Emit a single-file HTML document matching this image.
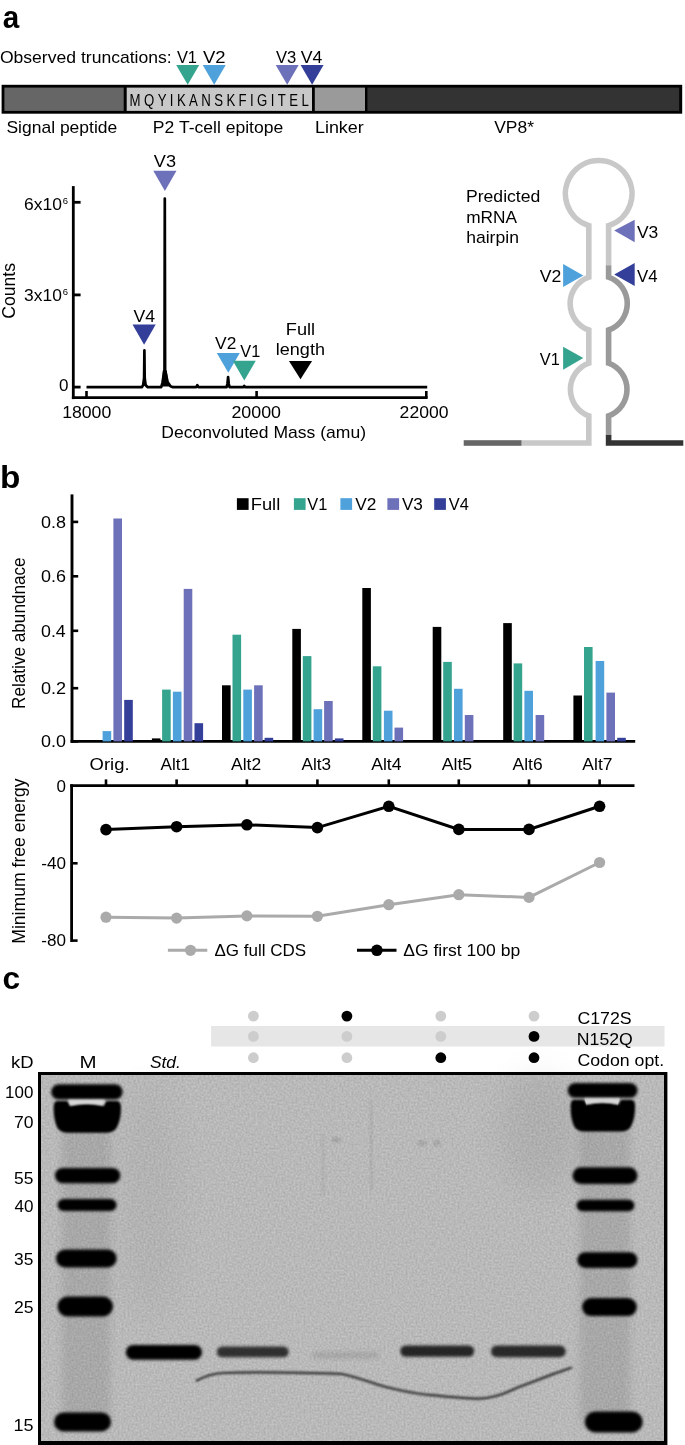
<!DOCTYPE html>
<html><head><meta charset="utf-8"><style>
html,body{margin:0;padding:0;background:#fff;}
svg{display:block;will-change:transform;font-family:"Liberation Sans",sans-serif;font-size:17px;}
</style></head><body>
<svg width="685" height="1445" viewBox="0 0 685 1445">
<defs>
<filter id="b15" x="-20%" y="-50%" width="140%" height="200%"><feGaussianBlur stdDeviation="1.5"/></filter>
<filter id="b14" x="-20%" y="-50%" width="140%" height="200%"><feGaussianBlur stdDeviation="1.4"/></filter>
<filter id="b20" x="-50%" y="-50%" width="200%" height="200%"><feGaussianBlur stdDeviation="15"/></filter>
<filter id="b18" x="-20%" y="-80%" width="140%" height="260%"><feGaussianBlur stdDeviation="1.8"/></filter>
<filter id="b12" x="-20%" y="-50%" width="140%" height="200%"><feGaussianBlur stdDeviation="1.2"/></filter>
<filter id="b2" x="-20%" y="-80%" width="140%" height="260%"><feGaussianBlur stdDeviation="2"/></filter>
<filter id="b08" x="-20%" y="-50%" width="140%" height="200%"><feGaussianBlur stdDeviation="0.8"/></filter>
<filter id="b1" x="-20%" y="-50%" width="140%" height="200%"><feGaussianBlur stdDeviation="1"/></filter>
<filter id="b05" x="-5%" y="-20%" width="110%" height="140%"><feGaussianBlur stdDeviation="0.6"/></filter>
<filter id="b4" x="-30%" y="-10%" width="160%" height="120%"><feGaussianBlur stdDeviation="4"/></filter>
<filter id="noise" x="0" y="0" width="100%" height="100%" color-interpolation-filters="sRGB"><feTurbulence type="fractalNoise" baseFrequency="0.5" numOctaves="2" seed="3"/><feColorMatrix type="matrix" values="0.17 0 0 0 0.64  0.17 0 0 0 0.64  0.17 0 0 0 0.64  0 0 0 0 1"/></filter>
</defs>
<rect width="685" height="1445" fill="#fff"/>
<text x="2.73" y="27.60" font-size="31.5" style="font-weight:bold;" textLength="16.48" lengthAdjust="spacingAndGlyphs">a</text>
<text x="-0.13" y="62.50" textLength="171.84" lengthAdjust="spacingAndGlyphs">Observed truncations:</text>
<text x="176.93" y="62.50" textLength="20.07" lengthAdjust="spacingAndGlyphs">V1</text>
<text x="203.02" y="62.50" textLength="22.61" lengthAdjust="spacingAndGlyphs">V2</text>
<text x="276.03" y="62.50" textLength="20.30" lengthAdjust="spacingAndGlyphs">V3</text>
<text x="300.82" y="62.50" textLength="21.59" lengthAdjust="spacingAndGlyphs">V4</text>
<polygon points="176.20,64.90 199.20,64.90 187.70,84.70" fill="#35a48e"/>
<polygon points="202.70,64.90 225.70,64.90 214.20,84.70" fill="#4ea1db"/>
<polygon points="275.70,64.90 298.70,64.90 287.20,84.70" fill="#6d71b9"/>
<polygon points="300.60,64.90 323.60,64.90 312.10,84.70" fill="#333f98"/>
<rect x="1.60" y="84.80" width="680.60" height="28.90" fill="#000"/>
<rect x="4.40" y="87.60" width="119.30" height="23.30" fill="#666"/>
<rect x="126.70" y="87.60" width="185.30" height="23.30" fill="#c8c8c8"/>
<rect x="314.80" y="87.60" width="50.20" height="23.30" fill="#9a9a9a"/>
<rect x="367.40" y="87.60" width="311.80" height="23.30" fill="#333"/>
<text transform="translate(129.6,106.1) scale(0.8,1)" x="0" y="0" font-size="16.5" textLength="224" lengthAdjust="spacing" fill="#000">MQYIKANSKFIGITEL</text>
<text x="6.41" y="132.70" textLength="110.87" lengthAdjust="spacingAndGlyphs">Signal peptide</text>
<text x="152.87" y="132.50" textLength="130.40" lengthAdjust="spacingAndGlyphs">P2 T-cell epitope</text>
<text x="314.93" y="133.00" textLength="48.87" lengthAdjust="spacingAndGlyphs">Linker</text>
<text x="494.22" y="133.20" textLength="39.75" lengthAdjust="spacingAndGlyphs">VP8*</text>
<line x1="73.30" y1="186.10" x2="73.30" y2="399.10" stroke="#000" stroke-width="2.8"/>
<line x1="71.90" y1="397.70" x2="427.60" y2="397.70" stroke="#000" stroke-width="2.8"/>
<line x1="73.30" y1="202.30" x2="80.60" y2="202.30" stroke="#000" stroke-width="2.8"/>
<line x1="73.30" y1="294.90" x2="80.60" y2="294.90" stroke="#000" stroke-width="2.8"/>
<line x1="73.30" y1="387.10" x2="80.60" y2="387.10" stroke="#000" stroke-width="2.8"/>
<line x1="86.50" y1="391.00" x2="86.50" y2="397.70" stroke="#000" stroke-width="2.6"/>
<line x1="256.60" y1="391.00" x2="256.60" y2="397.70" stroke="#000" stroke-width="2.6"/>
<line x1="426.30" y1="391.00" x2="426.30" y2="397.70" stroke="#000" stroke-width="2.6"/>
<text x="23.91" y="209.80" textLength="37.97" lengthAdjust="spacingAndGlyphs">6x10</text>
<text x="62.72" y="204.10" font-size="9.5">6</text>
<text x="24.14" y="300.60" textLength="37.74" lengthAdjust="spacingAndGlyphs">3x10</text>
<text x="62.72" y="294.90" font-size="9.5">6</text>
<text x="58.91" y="391.40">0</text>
<text x="62.15" y="417.80" textLength="49.14" lengthAdjust="spacingAndGlyphs">18000</text>
<text x="231.40" y="417.80" textLength="49.59" lengthAdjust="spacingAndGlyphs">20000</text>
<text x="399.62" y="417.80" textLength="48.87" lengthAdjust="spacingAndGlyphs">22000</text>
<text x="161.36" y="437.60" textLength="204.63" lengthAdjust="spacingAndGlyphs">Deconvoluted Mass (amu)</text>
<text transform="translate(15.20,318.69) rotate(-90)" font-size="17.6" textLength="55.63" lengthAdjust="spacingAndGlyphs">Counts</text>
<path d="M86.5,387.2 L141.8,387.2 L143.2,385 L144.1,378 L144.4,350.4 L144.7,378 L145.6,385 L147.5,387.2 L161.2,387.2 L162.4,383 L164.5,370 L164.8,198.6 L165.1,370 L167.6,382 L170.5,386.2 L173,387.2 L196.2,387.2 L197.3,385.2 L198.4,387.2 L226.6,387.2 L227.4,384 L228.1,377.2 L228.8,384 L229.6,387.2 L243.4,387.2 L244.2,385.8 L245,387.2 L427.2,387.2" fill="none" stroke="#000" stroke-width="2.7" stroke-linejoin="round"/>
<path d="M161.8,386.5 L162.8,370.5 L166.8,370.5 L168,381 L170.5,386.5 Z" fill="#000"/>
<text x="153.82" y="167.30" textLength="22.18" lengthAdjust="spacingAndGlyphs">V3</text>
<polygon points="153.30,170.80 176.50,170.80 164.90,191.00" fill="#6d71b9"/>
<text x="133.52" y="321.90" textLength="21.59" lengthAdjust="spacingAndGlyphs">V4</text>
<polygon points="132.50,324.50 155.70,324.50 144.10,344.70" fill="#333f98"/>
<text x="215.12" y="348.60" textLength="21.25" lengthAdjust="spacingAndGlyphs">V2</text>
<polygon points="216.80,353.00 239.80,353.00 228.30,372.70" fill="#4ea1db"/>
<text x="240.33" y="357.40" textLength="19.97" lengthAdjust="spacingAndGlyphs">V1</text>
<polygon points="232.80,360.70 255.80,360.70 244.30,380.40" fill="#35a48e"/>
<text x="285.81" y="334.90" textLength="29.31" lengthAdjust="spacingAndGlyphs">Full</text>
<text x="275.78" y="355.30" textLength="49.19" lengthAdjust="spacingAndGlyphs">length</text>
<polygon points="288.95,360.90 312.05,360.90 300.50,379.30" fill="#000"/>
<text x="465.96" y="201.90" textLength="74.38" lengthAdjust="spacingAndGlyphs">Predicted</text>
<text x="466.25" y="222.90" textLength="50.78" lengthAdjust="spacingAndGlyphs">mRNA</text>
<text x="466.18" y="243.10" textLength="52.76" lengthAdjust="spacingAndGlyphs">hairpin</text>
<path d="M521,443 L588.8,443 L588.8,415.8 A28,28 0 0 1 588.8,363.2 L588.8,330 A28,28 0 0 1 588.8,277.2 L588.8,225.6 A33.3,33.3 0 1 1 608.6,225.6 L608.6,266" fill="none" stroke="#c8c8c8" stroke-width="5.6"/>
<path d="M608.6,265.5 L608.6,277.2 A28,28 0 0 1 608.6,330 L608.6,363.2 A28,28 0 0 1 608.6,415.8 L608.6,435.5" fill="none" stroke="#9a9a9a" stroke-width="5.6"/>
<path d="M608.6,435 L608.6,443 L683.3,443" fill="none" stroke="#333" stroke-width="5.6"/>
<rect x="463.70" y="440.20" width="57.70" height="5.60" fill="#666"/>
<polygon points="614.20,230.50 634.70,219.80 634.70,242.30" fill="#6d71b9"/>
<polygon points="614.20,274.50 634.70,263.00 634.70,286.00" fill="#333f98"/>
<polygon points="583.30,275.50 563.10,264.10 563.10,287.00" fill="#4ea1db"/>
<polygon points="583.30,358.00 563.10,346.80 563.10,369.70" fill="#35a48e"/>
<text x="636.92" y="237.60" textLength="21.34" lengthAdjust="spacingAndGlyphs">V3</text>
<text x="636.93" y="282.20" textLength="20.57" lengthAdjust="spacingAndGlyphs">V4</text>
<text x="539.82" y="282.20" textLength="21.56" lengthAdjust="spacingAndGlyphs">V2</text>
<text x="539.83" y="364.50" textLength="19.97" lengthAdjust="spacingAndGlyphs">V1</text>
<text x="-0.10" y="487.50" font-size="31" style="font-weight:bold;" textLength="20.37" lengthAdjust="spacingAndGlyphs">b</text>
<line x1="72.00" y1="494.40" x2="72.00" y2="742.80" stroke="#000" stroke-width="2.9"/>
<line x1="70.60" y1="741.40" x2="635.20" y2="741.40" stroke="#000" stroke-width="2.8"/>
<line x1="72.00" y1="521.90" x2="78.20" y2="521.90" stroke="#000" stroke-width="2.6"/>
<text x="41.00" y="527.90" textLength="24.98" lengthAdjust="spacingAndGlyphs">0.8</text>
<line x1="72.00" y1="576.30" x2="78.20" y2="576.30" stroke="#000" stroke-width="2.6"/>
<text x="41.00" y="582.30" textLength="24.99" lengthAdjust="spacingAndGlyphs">0.6</text>
<line x1="72.00" y1="630.80" x2="78.20" y2="630.80" stroke="#000" stroke-width="2.6"/>
<text x="41.01" y="636.80" textLength="24.72" lengthAdjust="spacingAndGlyphs">0.4</text>
<line x1="72.00" y1="688.20" x2="78.20" y2="688.20" stroke="#000" stroke-width="2.6"/>
<text x="40.99" y="694.20" textLength="25.11" lengthAdjust="spacingAndGlyphs">0.2</text>
<line x1="72.00" y1="741.40" x2="78.20" y2="741.40" stroke="#000" stroke-width="2.6"/>
<text x="41.00" y="747.40" textLength="24.90" lengthAdjust="spacingAndGlyphs">0.0</text>
<text transform="translate(25.40,708.91) rotate(-90)" font-size="17.5" textLength="151.57" lengthAdjust="spacingAndGlyphs">Relative abundnace</text>
<rect x="236.90" y="498.20" width="11.70" height="11.70" fill="#000"/>
<text x="250.70" y="509.90" textLength="29.53" lengthAdjust="spacingAndGlyphs">Full</text>
<rect x="293.90" y="498.20" width="11.70" height="11.70" fill="#35a48e"/>
<text x="307.33" y="509.90" textLength="20.07" lengthAdjust="spacingAndGlyphs">V1</text>
<rect x="340.40" y="498.20" width="11.70" height="11.70" fill="#4ea1db"/>
<text x="355.22" y="509.90" textLength="21.15" lengthAdjust="spacingAndGlyphs">V2</text>
<rect x="387.40" y="498.20" width="11.70" height="11.70" fill="#6d71b9"/>
<text x="401.92" y="509.90" textLength="21.03" lengthAdjust="spacingAndGlyphs">V3</text>
<rect x="434.20" y="498.20" width="11.70" height="11.70" fill="#333f98"/>
<text x="448.73" y="509.90" textLength="20.05" lengthAdjust="spacingAndGlyphs">V4</text>
<rect x="102.60" y="731.10" width="8.60" height="10.30" fill="#4ea1db"/>
<rect x="113.40" y="518.50" width="8.60" height="222.90" fill="#6d71b9"/>
<rect x="124.20" y="699.90" width="8.60" height="41.50" fill="#333f98"/>
<rect x="151.90" y="738.40" width="8.60" height="3.00" fill="#000"/>
<rect x="162.10" y="689.60" width="8.60" height="51.80" fill="#35a48e"/>
<rect x="172.90" y="691.70" width="8.60" height="49.70" fill="#4ea1db"/>
<rect x="183.70" y="588.90" width="8.60" height="152.50" fill="#6d71b9"/>
<rect x="194.50" y="723.20" width="8.60" height="18.20" fill="#333f98"/>
<rect x="222.00" y="685.30" width="8.60" height="56.10" fill="#000"/>
<rect x="232.50" y="634.70" width="8.60" height="106.70" fill="#35a48e"/>
<rect x="243.30" y="689.60" width="8.60" height="51.80" fill="#4ea1db"/>
<rect x="254.10" y="685.30" width="8.60" height="56.10" fill="#6d71b9"/>
<rect x="264.60" y="737.80" width="8.60" height="3.60" fill="#333f98"/>
<rect x="292.30" y="628.90" width="8.60" height="112.50" fill="#000"/>
<rect x="302.80" y="656.10" width="8.60" height="85.30" fill="#35a48e"/>
<rect x="313.60" y="709.20" width="8.60" height="32.20" fill="#4ea1db"/>
<rect x="324.10" y="701.00" width="8.60" height="40.40" fill="#6d71b9"/>
<rect x="334.90" y="738.40" width="8.60" height="3.00" fill="#333f98"/>
<rect x="362.30" y="588.00" width="8.60" height="153.40" fill="#000"/>
<rect x="372.80" y="666.30" width="8.60" height="75.10" fill="#35a48e"/>
<rect x="383.90" y="710.70" width="8.60" height="30.70" fill="#4ea1db"/>
<rect x="394.50" y="727.60" width="8.60" height="13.80" fill="#6d71b9"/>
<rect x="432.70" y="626.90" width="8.60" height="114.50" fill="#000"/>
<rect x="443.20" y="661.90" width="8.60" height="79.50" fill="#35a48e"/>
<rect x="454.00" y="688.80" width="8.60" height="52.60" fill="#4ea1db"/>
<rect x="464.80" y="715.00" width="8.60" height="26.40" fill="#6d71b9"/>
<rect x="503.20" y="623.10" width="8.60" height="118.30" fill="#000"/>
<rect x="513.60" y="663.40" width="8.60" height="78.00" fill="#35a48e"/>
<rect x="524.40" y="690.80" width="8.60" height="50.60" fill="#4ea1db"/>
<rect x="535.60" y="715.00" width="8.60" height="26.40" fill="#6d71b9"/>
<rect x="573.40" y="695.50" width="8.60" height="45.90" fill="#000"/>
<rect x="584.00" y="647.00" width="8.60" height="94.40" fill="#35a48e"/>
<rect x="595.60" y="661.00" width="8.60" height="80.40" fill="#4ea1db"/>
<rect x="606.40" y="692.60" width="8.60" height="48.80" fill="#6d71b9"/>
<rect x="617.20" y="737.80" width="8.60" height="3.60" fill="#333f98"/>
<text x="89.63" y="769.90" textLength="39.96" lengthAdjust="spacingAndGlyphs">Orig.</text>
<text x="160.57" y="769.90" textLength="29.47" lengthAdjust="spacingAndGlyphs">Alt1</text>
<text x="231.07" y="769.90" textLength="30.11" lengthAdjust="spacingAndGlyphs">Alt2</text>
<text x="301.47" y="769.90" textLength="29.59" lengthAdjust="spacingAndGlyphs">Alt3</text>
<text x="371.17" y="769.90" textLength="30.35" lengthAdjust="spacingAndGlyphs">Alt4</text>
<text x="441.67" y="769.90" textLength="30.58" lengthAdjust="spacingAndGlyphs">Alt5</text>
<text x="512.57" y="769.90" textLength="30.00" lengthAdjust="spacingAndGlyphs">Alt6</text>
<text x="582.37" y="769.90" textLength="30.11" lengthAdjust="spacingAndGlyphs">Alt7</text>
<line x1="70.20" y1="785.70" x2="634.50" y2="785.70" stroke="#000" stroke-width="2.8"/>
<line x1="71.60" y1="784.30" x2="71.60" y2="942.00" stroke="#000" stroke-width="2.8"/>
<line x1="106.00" y1="779.40" x2="106.00" y2="785.70" stroke="#000" stroke-width="2.6"/>
<line x1="176.60" y1="779.40" x2="176.60" y2="785.70" stroke="#000" stroke-width="2.6"/>
<line x1="246.90" y1="779.40" x2="246.90" y2="785.70" stroke="#000" stroke-width="2.6"/>
<line x1="317.40" y1="779.40" x2="317.40" y2="785.70" stroke="#000" stroke-width="2.6"/>
<line x1="388.80" y1="779.40" x2="388.80" y2="785.70" stroke="#000" stroke-width="2.6"/>
<line x1="458.80" y1="779.40" x2="458.80" y2="785.70" stroke="#000" stroke-width="2.6"/>
<line x1="529.00" y1="779.40" x2="529.00" y2="785.70" stroke="#000" stroke-width="2.6"/>
<line x1="599.60" y1="779.40" x2="599.60" y2="785.70" stroke="#000" stroke-width="2.6"/>
<line x1="71.60" y1="863.30" x2="77.60" y2="863.30" stroke="#000" stroke-width="2.6"/>
<line x1="71.60" y1="940.60" x2="77.60" y2="940.60" stroke="#000" stroke-width="2.6"/>
<text x="56.61" y="792.00">0</text>
<text x="41.34" y="868.90" textLength="24.73" lengthAdjust="spacingAndGlyphs">-40</text>
<text x="41.34" y="945.90" textLength="24.73" lengthAdjust="spacingAndGlyphs">-80</text>
<text transform="translate(25.00,943.74) rotate(-90)" font-size="17.6" textLength="165.28" lengthAdjust="spacingAndGlyphs">Minimum free energy</text>
<polyline points="106.0,917.2 176.6,918.1 246.9,915.9 317.4,916.3 388.8,904.7 458.8,894.7 529.0,897.4 599.6,862.5" fill="none" stroke="#aaa" stroke-width="3"/>
<circle cx="106.0" cy="917.2" r="5.6" fill="#aaa"/>
<circle cx="176.6" cy="918.1" r="5.6" fill="#aaa"/>
<circle cx="246.9" cy="915.9" r="5.6" fill="#aaa"/>
<circle cx="317.4" cy="916.3" r="5.6" fill="#aaa"/>
<circle cx="388.8" cy="904.7" r="5.6" fill="#aaa"/>
<circle cx="458.8" cy="894.7" r="5.6" fill="#aaa"/>
<circle cx="529.0" cy="897.4" r="5.6" fill="#aaa"/>
<circle cx="599.6" cy="862.5" r="5.6" fill="#aaa"/>
<polyline points="106.0,829.6 176.6,826.7 246.9,824.8 317.4,827.6 388.8,806.3 458.8,829.4 529.0,829.4 599.6,806.3" fill="none" stroke="#000" stroke-width="3"/>
<circle cx="106.0" cy="829.6" r="5.8" fill="#000"/>
<circle cx="176.6" cy="826.7" r="5.8" fill="#000"/>
<circle cx="246.9" cy="824.8" r="5.8" fill="#000"/>
<circle cx="317.4" cy="827.6" r="5.8" fill="#000"/>
<circle cx="388.8" cy="806.3" r="5.8" fill="#000"/>
<circle cx="458.8" cy="829.4" r="5.8" fill="#000"/>
<circle cx="529.0" cy="829.4" r="5.8" fill="#000"/>
<circle cx="599.6" cy="806.3" r="5.8" fill="#000"/>
<line x1="167.90" y1="950.30" x2="207.30" y2="950.30" stroke="#aaa" stroke-width="3"/>
<circle cx="190.5" cy="950.3" r="5.6" fill="#aaa"/>
<text x="214.49" y="956.00" textLength="91.69" lengthAdjust="spacingAndGlyphs">ΔG full CDS</text>
<line x1="357.00" y1="950.30" x2="396.50" y2="950.30" stroke="#000" stroke-width="3"/>
<circle cx="376.9" cy="950.3" r="5.8" fill="#000"/>
<text x="403.28" y="955.60" textLength="116.96" lengthAdjust="spacingAndGlyphs">ΔG first 100 bp</text>
<text x="2.56" y="989.40" font-size="31.5" style="font-weight:bold;" textLength="17.67" lengthAdjust="spacingAndGlyphs">c</text>
<rect x="211.10" y="1026.00" width="453.40" height="20.50" fill="#e6e6e6"/>
<circle cx="253.4" cy="1016.1" r="5.4" fill="#cdcdcd"/>
<circle cx="346.9" cy="1016.1" r="5.4" fill="#000"/>
<circle cx="440.8" cy="1016.1" r="5.4" fill="#cdcdcd"/>
<circle cx="534.0" cy="1016.1" r="5.4" fill="#cdcdcd"/>
<circle cx="253.4" cy="1036.4" r="5.4" fill="#cdcdcd"/>
<circle cx="346.9" cy="1036.4" r="5.4" fill="#cdcdcd"/>
<circle cx="440.8" cy="1036.4" r="5.4" fill="#cdcdcd"/>
<circle cx="534.0" cy="1036.4" r="5.4" fill="#000"/>
<circle cx="253.4" cy="1057.7" r="5.4" fill="#cdcdcd"/>
<circle cx="346.9" cy="1057.7" r="5.4" fill="#cdcdcd"/>
<circle cx="440.8" cy="1057.7" r="5.4" fill="#000"/>
<circle cx="534.0" cy="1057.7" r="5.4" fill="#000"/>
<text x="577.40" y="1024.10" textLength="54.21" lengthAdjust="spacingAndGlyphs">C172S</text>
<text x="576.85" y="1044.60" textLength="56.00" lengthAdjust="spacingAndGlyphs">N152Q</text>
<text x="577.40" y="1065.50" textLength="86.82" lengthAdjust="spacingAndGlyphs">Codon opt.</text>
<text x="11.06" y="1067.70" font-size="16" textLength="22.52" lengthAdjust="spacingAndGlyphs">kD</text>
<text x="79.52" y="1067.70" font-size="16" textLength="17.06" lengthAdjust="spacingAndGlyphs">M</text>
<text x="149.91" y="1067.70" font-size="16" style="font-style:italic;" textLength="30.92" lengthAdjust="spacingAndGlyphs">Std.</text>
<text x="5.11" y="1098.40" font-size="16" textLength="28.25" lengthAdjust="spacingAndGlyphs">100</text>
<text x="13.90" y="1128.20" font-size="16" textLength="19.48" lengthAdjust="spacingAndGlyphs">70</text>
<text x="14.10" y="1183.60" font-size="16" textLength="19.33" lengthAdjust="spacingAndGlyphs">55</text>
<text x="14.41" y="1212.10" font-size="16" textLength="18.96" lengthAdjust="spacingAndGlyphs">40</text>
<text x="14.14" y="1265.30" font-size="16" textLength="19.29" lengthAdjust="spacingAndGlyphs">35</text>
<text x="13.92" y="1313.40" font-size="16" textLength="19.52" lengthAdjust="spacingAndGlyphs">25</text>
<text x="13.43" y="1430.80" font-size="16" textLength="20.03" lengthAdjust="spacingAndGlyphs">15</text>
<rect x="38" y="1072.0" width="629.4" height="380" fill="#000"/>
<rect x="41.5" y="1075.4" width="622.5" height="365.6" fill="#bbbbbb"/>
<rect x="41.5" y="1075.4" width="622.5" height="365.6" filter="url(#noise)"/>
<g filter="url(#b20)" fill="#000"><ellipse cx="540" cy="1130" rx="40" ry="60" opacity="0.05"/><ellipse cx="150" cy="1200" rx="30" ry="120" opacity="0.03"/></g>
<g filter="url(#b12)" fill="#000"><rect x="322.5" y="1135" width="1.4" height="60" opacity="0.1"/><rect x="370.5" y="1100" width="1.4" height="90" opacity="0.12"/><ellipse cx="336" cy="1140" rx="4" ry="3" opacity="0.12"/><ellipse cx="422" cy="1143" rx="5" ry="3" opacity="0.1"/><ellipse cx="437" cy="1143" rx="4" ry="3" opacity="0.1"/></g>
<g filter="url(#b4)" fill="#000" opacity="0.09"><rect x="62" y="1104" width="48" height="320"/><rect x="580" y="1104" width="50" height="320"/></g>
<rect x="51.2" y="1084.3" width="71.4" height="15.3" rx="7.6" fill="#000" filter="url(#b14)" opacity="1"/>
<rect x="54.9" y="1167.9" width="65.4" height="15.4" rx="7.7" fill="#000" filter="url(#b14)" opacity="1"/>
<rect x="57.5" y="1198.9" width="59.1" height="12.2" rx="6.1" fill="#000" filter="url(#b14)" opacity="1"/>
<rect x="56.0" y="1249.5" width="60.6" height="17.9" rx="9.0" fill="#000" filter="url(#b14)" opacity="1"/>
<rect x="57.5" y="1296.5" width="55.5" height="20.0" rx="10.0" fill="#000" filter="url(#b14)" opacity="1"/>
<rect x="54.0" y="1412.4" width="57.0" height="19.0" rx="9.5" fill="#000" filter="url(#b14)" opacity="1"/>
<rect x="567.7" y="1083.0" width="69.8" height="14.8" rx="7.4" fill="#000" filter="url(#b14)" opacity="1"/>
<rect x="572.5" y="1167.2" width="65.0" height="16.8" rx="8.4" fill="#000" filter="url(#b14)" opacity="1"/>
<rect x="576.6" y="1199.7" width="57.8" height="11.6" rx="5.8" fill="#000" filter="url(#b14)" opacity="1"/>
<rect x="577.3" y="1252.3" width="60.2" height="15.6" rx="7.8" fill="#000" filter="url(#b14)" opacity="1"/>
<rect x="582.1" y="1298.0" width="54.7" height="18.1" rx="9.0" fill="#000" filter="url(#b14)" opacity="1"/>
<rect x="584.8" y="1411.5" width="57.9" height="20.9" rx="10.5" fill="#000" filter="url(#b14)" opacity="1"/>
<g transform=""><path d="M57,1101 L66,1101 Q69,1101 70,1105.8 Q87,1101.8 104,1105.8 Q105,1101 108,1101 L117,1101 Q121,1101 121,1108 Q121,1120 116.5,1128 Q113.5,1132.8 106,1132.8 L68,1132.8 Q60.5,1132.8 57.5,1128 Q53.5,1120 53.6,1108 Q53.6,1101 57,1101 Z" fill="#000" filter="url(#b12)"/><path d="M68,1099.8 L105,1099.8 L103,1105.5 Q87,1101.8 70,1105.5 Z" fill="#d8d8d8" filter="url(#b08)"/></g>
<g transform="translate(602.85,-1.2) scale(0.957,1) translate(-87.3,0)"><path d="M57,1101 L66,1101 Q69,1101 70,1105.8 Q87,1101.8 104,1105.8 Q105,1101 108,1101 L117,1101 Q121,1101 121,1108 Q121,1120 116.5,1128 Q113.5,1132.8 106,1132.8 L68,1132.8 Q60.5,1132.8 57.5,1128 Q53.5,1120 53.6,1108 Q53.6,1101 57,1101 Z" fill="#000" filter="url(#b12)"/><path d="M68,1099.8 L105,1099.8 L103,1105.5 Q87,1101.8 70,1105.5 Z" fill="#d8d8d8" filter="url(#b08)"/></g>
<rect x="125.8" y="1344.9" width="76.2" height="14.8" rx="7.4" fill="#000" filter="url(#b15)" opacity="1"/>
<rect x="216.8" y="1346.6" width="71.9" height="10.6" rx="5.3" fill="#000" filter="url(#b18)" opacity="0.74"/>
<rect x="312.5" y="1352.0" width="66.5" height="6.5" rx="3.2" fill="#000" filter="url(#b2)" opacity="0.1"/>
<rect x="400.3" y="1345.4" width="73.9" height="11.4" rx="5.7" fill="#000" filter="url(#b18)" opacity="0.8"/>
<rect x="491.0" y="1345.6" width="74.7" height="11.7" rx="5.9" fill="#000" filter="url(#b18)" opacity="0.78"/>
<path d="M196,1381 C205,1376 212,1373.5 223,1373 C245,1372 280,1372.5 300,1372.8 C320,1373 335,1373.5 342,1374 C360,1378 372,1383 383,1386.2 C400,1390.5 412,1393 425,1394.5 C445,1396.5 465,1398.6 479,1398.6 C495,1398 505,1393 516,1388.2 C535,1381 550,1375 566,1369.5 L572,1367.5" fill="none" stroke="#2a2a2a" stroke-width="2.2" filter="url(#b08)"/>
</svg>
</body></html>
